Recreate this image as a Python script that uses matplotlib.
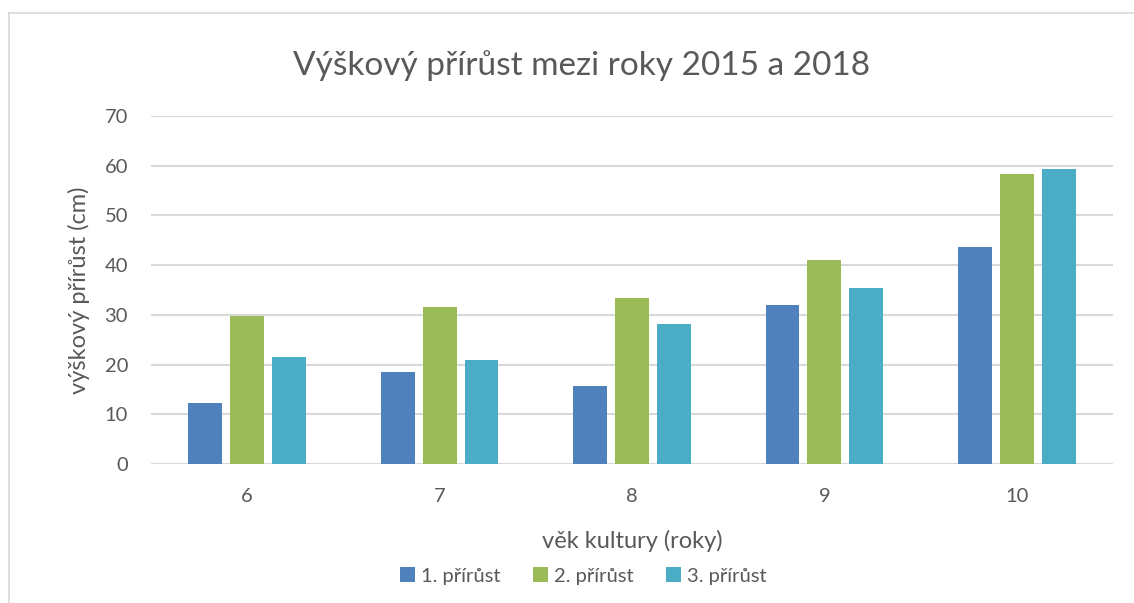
import numpy as np
import matplotlib.pyplot as plt
from matplotlib.lines import Line2D

plt.rcParams['font.family'] = ['Lato', 'DejaVu Sans']

vek = ['6', '7', '8', '9', '10']
prirust_1 = [12.2, 18.5, 15.6, 31.9, 43.6]
prirust_2 = [29.7, 31.5, 33.4, 41.0, 58.3]
prirust_3 = [21.5, 20.9, 28.1, 35.4, 59.3]
nazvy = ['1. přírůst', '2. přírůst', '3. přírůst']
barvy = ['#4F81BD', '#9BBB59', '#4BACC6']

text_col = '#595959'
grid_col = '#D9D9D9'

W, H = 1134, 603
fig = plt.figure(figsize=(W / 100, H / 100), dpi=100)
ax = fig.add_axes([151 / W, 1 - 464 / H, 962 / W, 348 / H])

x = np.arange(len(vek))
w = 0.176
step = 0.218
for i, (vals, name, c) in enumerate(zip([prirust_1, prirust_2, prirust_3], nazvy, barvy)):
    ax.bar(x + (i - 1) * step, vals, width=w, color=c, label=name, zorder=3)

ax.set_xlim(-0.5, len(vek) - 0.5)
ax.set_ylim(0, 70)
ax.set_yticks(range(0, 71, 10))
ax.set_xticks(x)
ax.set_xticklabels(vek)
ax.yaxis.grid(True, color=grid_col, linewidth=1.5, zorder=0)
for s in ax.spines.values():
    s.set_visible(False)
ax.tick_params(axis='both', length=0, labelsize=14.5, labelcolor=text_col)
ax.tick_params(axis='y', pad=16.5)
ax.tick_params(axis='x', pad=17)

fig.text(582 / W, 1 - 75 / H, 'Výškový přírůst mezi roky 2015 a 2018',
         fontsize=24, color=text_col, ha='center', va='baseline')

ax.set_xlabel('věk kultury (roky)', fontsize=17, color=text_col)
ax.xaxis.label.set_va('baseline')
ax.xaxis.set_label_coords(0.5, (464 - 548) / 348)
ax.set_ylabel('výškový přírůst (cm)', fontsize=17, color=text_col)
ax.yaxis.label.set_va('center')
ax.yaxis.set_label_coords((79 - 151) / 962, 0.5)

handles, labels = ax.get_legend_handles_labels()
fig.legend(handles, labels, loc='center', bbox_to_anchor=(583 / W, 1 - 576 / H),
           ncol=3, frameon=False, fontsize=14.5, labelcolor=text_col,
           handlelength=0.75, handleheight=0.75, handletextpad=0.3, columnspacing=1.6)

# chart border (left and top visible)
fig.add_artist(Line2D([8.5 / W, 8.5 / W], [0, 1 - 12.5 / H], color=grid_col, linewidth=1.2))
fig.add_artist(Line2D([8.5 / W, 1], [1 - 12.5 / H, 1 - 12.5 / H], color=grid_col, linewidth=1.2))

fig.savefig('out.png', dpi=100)
